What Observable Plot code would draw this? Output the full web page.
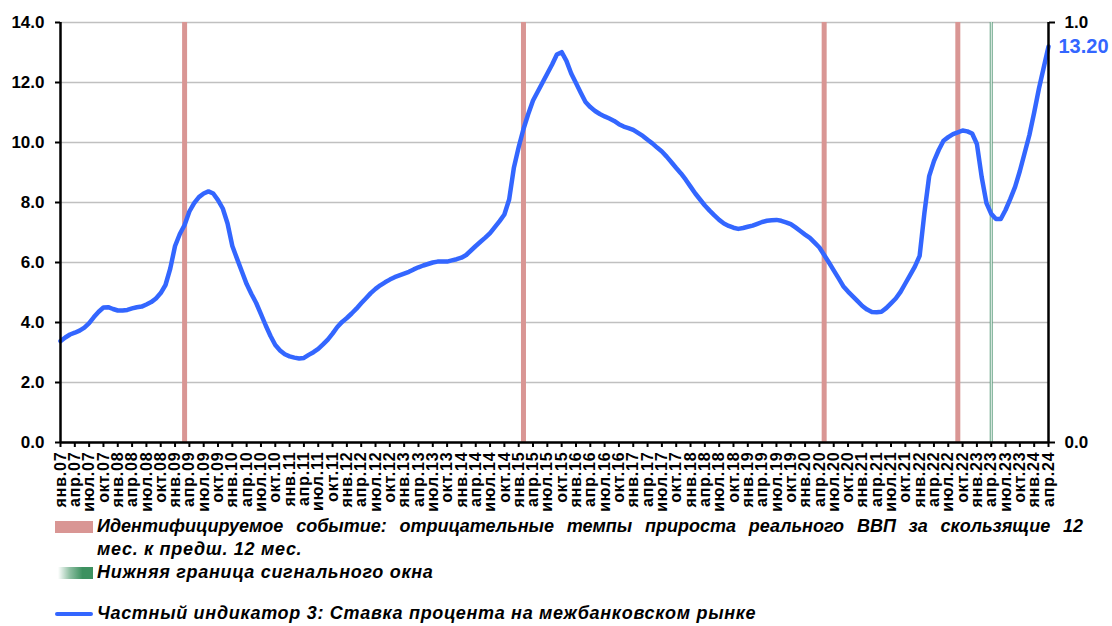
<!DOCTYPE html>
<html><head><meta charset="utf-8">
<script src="https://cdn.jsdelivr.net/npm/d3@7"></script>
<script src="https://cdn.jsdelivr.net/npm/@observablehq/plot@0.6"></script>
<style>
body{margin:0;background:#fff;font-family:Arial,"Liberation Sans",sans-serif;}
#wrap{position:relative;width:1112px;height:626px;overflow:hidden;}
.leg{position:absolute;left:0;font-weight:bold;font-style:italic;font-size:18px;color:#000;line-height:23px;height:23px;}
.sw{position:absolute;left:55px;width:38px;}
.txt{position:absolute;left:97px;white-space:nowrap;letter-spacing:0.7px;}
g[aria-label="x-axis tick label"] text{letter-spacing:0.8px;}
</style></head>
<body><div id="wrap"></div>
<script>
// Monthly series, Jan 2007 .. Apr 2024 (index 0 = янв.07)
const values = [
  3.38,3.50,3.60,3.66,3.73,3.83,3.98,4.18,4.36,4.50,4.51,4.45,
  4.40,4.40,4.42,4.47,4.51,4.53,4.60,4.68,4.80,4.98,5.25,5.80,
  6.55,6.95,7.25,7.70,7.98,8.18,8.30,8.37,8.30,8.08,7.80,7.30,
  6.55,6.12,5.70,5.28,4.95,4.65,4.28,3.90,3.55,3.25,3.07,2.94,
  2.87,2.83,2.80,2.82,2.92,3.01,3.12,3.27,3.43,3.63,3.85,4.02,
  4.15,4.30,4.46,4.64,4.81,4.98,5.12,5.24,5.34,5.43,5.51,5.57,
  5.63,5.69,5.77,5.84,5.90,5.95,6.00,6.03,6.03,6.03,6.07,6.11,
  6.16,6.25,6.40,6.55,6.69,6.83,6.98,7.18,7.38,7.60,8.10,9.17,
  9.85,10.45,10.95,11.40,11.70,12.00,12.30,12.60,12.93,13.01,12.72,12.30,
  11.98,11.66,11.35,11.18,11.05,10.95,10.87,10.80,10.72,10.61,10.53,10.48,
  10.42,10.32,10.22,10.09,9.97,9.83,9.70,9.53,9.34,9.15,8.97,8.76,
  8.53,8.30,8.10,7.90,7.73,7.57,7.42,7.30,7.22,7.16,7.12,7.15,
  7.19,7.23,7.29,7.35,7.39,7.41,7.42,7.39,7.34,7.28,7.17,7.05,
  6.93,6.82,6.66,6.50,6.25,6.00,5.74,5.48,5.21,5.03,4.87,4.71,
  4.55,4.43,4.35,4.34,4.36,4.48,4.64,4.80,5.02,5.30,5.58,5.86,
  6.22,7.65,8.88,9.38,9.75,10.06,10.18,10.28,10.34,10.40,10.37,10.30,
  9.95,8.85,7.98,7.62,7.45,7.45,7.75,8.12,8.52,9.05,9.65,10.25,
  11.00,11.80,12.50,13.20
];
const tickLabels = [
  "янв.07","апр.07","июл.07","окт.07","янв.08","апр.08","июл.08","окт.08",
  "янв.09","апр.09","июл.09","окт.09","янв.10","апр.10","июл.10","окт.10",
  "янв.11","апр.11","июл.11","окт.11","янв.12","апр.12","июл.12","окт.12",
  "янв.13","апр.13","июл.13","окт.13","янв.14","апр.14","июл.14","окт.14",
  "янв.15","апр.15","июл.15","окт.15","янв.16","апр.16","июл.16","окт.16",
  "янв.17","апр.17","июл.17","окт.17","янв.18","апр.18","июл.18","окт.18",
  "янв.19","апр.19","июл.19","окт.19","янв.20","апр.20","июл.20","окт.20",
  "янв.21","апр.21","июл.21","окт.21","янв.22","апр.22","июл.22","окт.22",
  "янв.23","апр.23","июл.23","окт.23","янв.24","апр.24"
];
const eventMonths = [26, 97, 160, 188];   // идентифицируемые события
const signalMonths = [195];               // нижняя граница сигнального окна
const yTicks = [0, 2, 4, 6, 8, 10, 12, 14];
const yLabels = ["0.0","2.0","4.0","6.0","8.0","10.0","12.0","14.0"];
const rightTicks = [0, 14];
const rightLabels = ["0.0", "1.0"];

const BLUE = "#3366ff";
const series = values.map((v, i) => ({i, v}));
const tickIdx = tickLabels.map((_, k) => k * 3);
const last = series[series.length - 1];
const FONT = "Arial, 'Liberation Sans', sans-serif";

const chart = Plot.plot({
  width: 1112, height: 516,
  marginLeft: 60, marginRight: 64, marginTop: 22, marginBottom: 74,
  style: {fontFamily: FONT, fontWeight: "bold", color: "#000", background: "#fff", overflow: "visible"},
  x: {domain: [0, values.length - 1], axis: null},
  y: {domain: [0, 14], axis: null},
  marks: [
    Plot.gridY(yTicks, {stroke: "#c0c0c0", strokeOpacity: 1, strokeWidth: 1.3}),
    Plot.ruleX(eventMonths, {x: d => d, stroke: "#d99694", strokeWidth: 5}),
    Plot.ruleX(signalMonths, {x: d => d, stroke: "#5f9f7f", strokeWidth: 3}),
    Plot.ruleX(signalMonths, {x: d => d, stroke: "#ffffff", strokeWidth: 1}),
    Plot.line(series, {x: "i", y: "v", stroke: BLUE, strokeWidth: 4.5, strokeLinejoin: "round", strokeLinecap: "round"}),
    Plot.ruleY([0], {stroke: "#000", strokeWidth: 2.5}),
    Plot.ruleX([0, values.length - 1], {stroke: "#000", strokeWidth: 2.5}),
    Plot.axisY({anchor: "left", label: null, ticks: yTicks, tickFormat: d => yLabels[yTicks.indexOf(d)],
      tickSize: 5, tickPadding: 11, fontSize: 17, fontWeight: "bold", fontFamily: FONT, stroke: "#000", strokeWidth: 2, fill: "#000"}),
    Plot.axisY({anchor: "right", label: null, ticks: rightTicks, tickFormat: d => rightLabels[rightTicks.indexOf(d)],
      tickSize: 6, tickPadding: 10, fontSize: 17, fontWeight: "bold", fontFamily: FONT, stroke: "#000", strokeWidth: 2, fill: "#000"}),
    Plot.axisX({label: null, ticks: tickIdx, tickFormat: d => tickLabels[d / 3], tickRotate: -90,
      tickSize: 5, tickPadding: 4, fontSize: 16, fontWeight: "bold", fontFamily: FONT, stroke: "#000", strokeWidth: 2, fill: "#000"}),
    Plot.text([last], {x: "i", y: "v", text: d => d.v.toFixed(2), dx: 10, textAnchor: "start",
      fill: BLUE, fontSize: 20, fontWeight: "bold", fontFamily: FONT})
  ]
});
const wrap = document.getElementById("wrap");
wrap.appendChild(chart);

// Legend (below the SVG)
const legend = document.createElement("div");
legend.innerHTML = `
  <div class="leg" style="top:515px;width:1112px;">
    <div class="sw" style="top:6px;height:12px;background:#d99694;"></div>
    <div class="txt" style="width:986px;white-space:normal;text-align:justify;text-align-last:justify;letter-spacing:0;">Идентифицируемое событие: отрицательные темпы прироста реального ВВП за скользящие 12</div>
  </div>
  <div class="leg" style="top:538px;width:1112px;">
    <div class="txt">мес. к предш. 12 мес.</div>
  </div>
  <div class="leg" style="top:561px;width:1112px;">
    <div class="sw" style="top:6px;height:12px;left:58px;width:35px;background:linear-gradient(to right, rgba(61,145,96,0) 0%, rgba(61,145,96,0.6) 35%, #3d9160 70%, #3d9160 100%);"></div>
    <div class="txt">Нижняя граница сигнального окна</div>
  </div>
  <div class="leg" style="top:602px;width:1112px;">
    <div class="sw" style="top:10px;height:4px;border-radius:2px;background:${BLUE};"></div>
    <div class="txt">Частный индикатор 3: Ставка процента на межбанковском рынке</div>
  </div>`;
wrap.appendChild(legend);
</script>
</body></html>
